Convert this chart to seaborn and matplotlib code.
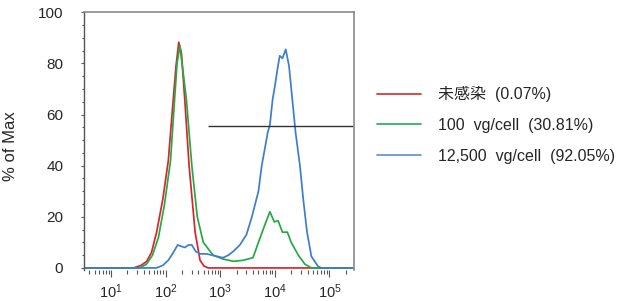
import numpy as np
import pandas as pd
import matplotlib
matplotlib.use("Agg")
import matplotlib.pyplot as plt
import seaborn as sns
from matplotlib.ticker import LogLocator, FixedLocator, MultipleLocator

sns.set_style("white")
plt.rcParams['font.family'] = ['Liberation Sans', 'Noto Sans CJK JP', 'DejaVu Sans']
plt.rcParams['mathtext.default'] = 'regular'

# ---- data (fluorescence intensity, % of max) ----
red_x = [3.2, 25.7, 35.5, 44.7, 55, 68.4, 89, 112, 138, 155, 174, 195, 224, 269, 347, 427, 501, 603, 275000]
red_y = [0, 0, 1, 2.5, 6, 14, 27, 42, 66, 79, 88.3, 84, 66, 40, 14, 3, 0.8, 0, 0]

green_x = [3.2, 33.9, 44.7, 57.5, 74, 95.5, 123, 145, 162, 182, 240, 302, 380, 490, 741, 1122, 1738,
           2630, 3981, 5012, 6607, 8128, 9772, 11482, 13804, 16982, 19953, 26915, 35481, 46774, 275000]
green_y = [0, 0, 1.5, 5, 12, 25, 42, 65, 80, 87, 66, 40, 20, 10, 5, 3.5, 2.6,
           3, 4, 10, 17, 22, 18, 18.5, 14, 14, 10, 5, 1.5, 0, 0]

blue_x = [3.2, 67.6, 89, 112, 138, 166, 191, 224, 263, 302, 355, 427, 562, 708, 891, 1122, 1413, 1738,
          2291, 3020, 3802, 4365, 5012, 5754, 6607, 7413, 8128, 9120, 10000, 11220, 12303, 13804,
          15849, 18197, 20893, 23988, 28840, 33113, 38905, 46774, 61660, 70795, 275000]
blue_y = [0, 0, 1, 3, 6, 9, 8.5, 8, 9, 9, 6.5, 5.5, 5.5, 5, 4.5, 4, 5, 6.5,
          9, 13, 20, 25, 30, 40, 47, 53, 56, 66, 71, 78, 83, 82,
          85.5, 79, 66, 53, 40, 27, 14, 4.5, 0.7, 0, 0]

labels = ['未感染  (0.07%)', '100  vg/cell  (30.81%)', '12,500  vg/cell  (92.05%)']
colors = ['#d7262b', '#27a844', '#3d7ecb']
legend_colors = ['#d9383c', '#3cae6a', '#6a98d2']

gate_x = [600, 275000]
gate_y = 55.5

df = pd.concat([
    pd.DataFrame({'x': red_x, 'y': red_y, 'series': labels[0]}),
    pd.DataFrame({'x': green_x, 'y': green_y, 'series': labels[1]}),
    pd.DataFrame({'x': blue_x, 'y': blue_y, 'series': labels[2]}),
])

fig = plt.figure(figsize=(6.2, 3.01), dpi=100)
ax = fig.add_axes([84 / 620, (301 - 270) / 301, (353.5 - 84) / 620, (270 - 12.3) / 301])

sns.lineplot(data=df, x='x', y='y', hue='series', palette=dict(zip(labels, colors)),
             linewidth=1.25, ax=ax, legend=False, sort=False, estimator=None)

ax.hlines(gate_y, gate_x[0], gate_x[1], color='#333333', linewidth=1.0)

ax.set_xscale('log')
ax.set_xlim(3.2, 2.76e5)
ax.set_ylim(-0.8, 100)

ax.xaxis.set_major_locator(FixedLocator([1e1, 1e2, 1e3, 1e4, 1e5]))
ax.xaxis.set_minor_locator(LogLocator(base=10, subs=np.arange(2, 10), numticks=20))
ax.yaxis.set_major_locator(MultipleLocator(20))
ax.yaxis.set_minor_locator(MultipleLocator(5))

for s in ['top', 'right']:
    ax.spines[s].set_color('#8a8a8a')
    ax.spines[s].set_linewidth(1.2)
ax.spines['left'].set_color('#555555')
ax.spines['left'].set_linewidth(1.0)
ax.spines['bottom'].set_visible(False)

ax.tick_params(axis='x', which='major', direction='out', length=5, width=0.8, color='#555555',
               labelsize=10.5, pad=4, bottom=True)
ax.tick_params(axis='x', which='minor', direction='out', length=3, width=0.8, color='#555555', bottom=True)
ax.tick_params(axis='y', which='major', direction='out', length=2, width=0.8, color='#555555',
               labelsize=11, pad=13, left=True)
ax.tick_params(axis='y', which='minor', direction='out', length=1.5, width=0.8, color='#555555', left=True)

ax.set_xlabel('')
ax.set_ylabel('% of Max', fontsize=12)
ax.yaxis.set_label_coords(-0.245, 0.48)

handles = [plt.Line2D([], [], color=c, linewidth=1.3) for c in legend_colors]
fig.legend(handles, labels, loc='center left', bbox_to_anchor=(377 / 620, 1 - 125 / 301),
           frameon=False, fontsize=11.5, handlelength=2.75, handletextpad=1.05,
           labelspacing=0.98, borderpad=0, borderaxespad=0)

fig.savefig('out.png', dpi=100)
